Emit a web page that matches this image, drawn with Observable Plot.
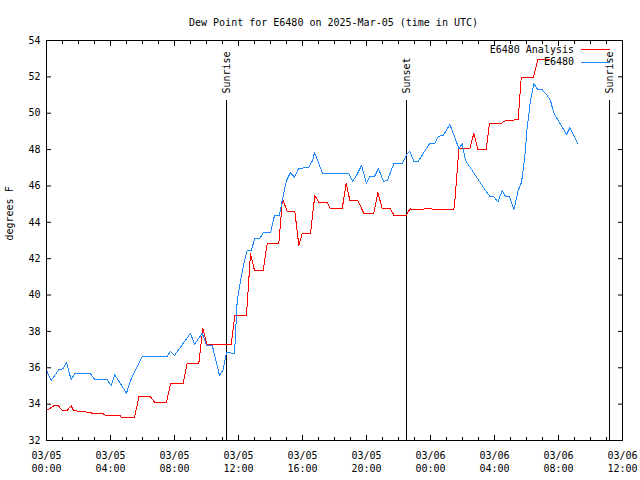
<!DOCTYPE html>
<html><head><meta charset="utf-8">
<script src="https://cdn.jsdelivr.net/npm/d3@7"></script>
<script src="https://cdn.jsdelivr.net/npm/@observablehq/plot@0.6"></script>
<style>body{margin:0;background:#fff} svg{display:block}</style>
</head><body><div id="chart"></div>
<script>
// ---- data (time in hours since 2025-03-05 00:00 UTC) ----
const title = "Dew Point for E6480 on 2025-Mar-05 (time in UTC)";
const yLabel = "degrees F";
const majorTickHours = [0, 4, 8, 12, 16, 20, 24, 28, 32, 36];
const tickDates = ["03/05","03/05","03/05","03/05","03/05","03/05","03/06","03/06","03/06","03/06"];
const tickTimes = ["00:00","04:00","08:00","12:00","16:00","20:00","00:00","04:00","08:00","12:00"];
const minorTickHours = [1,2,3,5,6,7,9,10,11,13,14,15,17,18,19,21,22,23,25,26,27,29,30,31,33,34,35];
const yTicks = [32, 34, 36, 38, 40, 42, 44, 46, 48, 50, 52, 54];
const sunHours = [11.25, 22.5, 35.19];
const sunLabels = ["Sunrise", "Sunset", "Sunrise"];
const seriesNames = ["E6480 Analysis", "E6480"];

const analysisHours = [0,0.46,0.75,0.98,1.29,1.54,1.69,2.1,2.54,2.75,2.85,3.56,3.69,4.63,4.69,5.5,5.77,6.5,6.77,7.5,
  7.75,8.54,8.79,9.52,9.77,10.04,11.54,11.77,12.5,12.75,13.0,13.54,13.79,14.52,14.75,15.04,15.52,15.77,15.98,16.5,
  16.77,17.02,17.54,17.75,18.48,18.73,18.96,19.46,19.83,20.46,20.71,20.98,21.5,21.71,22.5,22.71,22.96,23.48,23.69,23.89,
  24.58,25.46,25.52,25.67,25.77,26.46,26.71,26.96,27.48,27.69,28.44,28.69,29.48,29.67,30.42,30.71,31.46];
const analysisValues = [33.65,33.91,33.91,33.65,33.65,33.91,33.65,33.6,33.56,33.56,33.47,33.47,33.36,33.36,33.25,33.25,34.4,34.4,34.09,34.09,
  35.12,35.12,36.25,36.25,38.14,37.26,37.26,38.88,38.88,42.27,41.35,41.35,42.82,42.82,45.3,44.61,44.61,42.73,43.37,43.37,
  45.48,45.11,45.11,44.74,44.74,46.15,45.2,45.2,44.5,44.5,45.66,44.74,44.74,44.39,44.39,44.74,44.69,44.69,44.78,44.74,
  44.71,44.71,45.16,46.85,48.05,48.05,48.9,47.99,47.99,49.45,49.45,49.6,49.64,51.95,51.95,52.96,52.96];

const obsHours = [0,0.29,0.77,1.04,1.25,1.54,1.75,2.75,3.02,3.79,4.04,4.27,5.0,5.25,5.56,5.98,7.54,7.75,8.0,9.0,
  9.25,9.73,10.0,10.36,10.81,11.04,11.25,11.5,11.75,11.92,12.13,12.33,12.54,12.79,13.02,13.33,13.54,14.0,14.25,14.56,
  14.73,15.0,15.25,15.5,15.75,16.38,16.63,16.75,17.0,17.25,18.88,19.13,19.38,19.69,20.0,20.19,20.5,20.75,21.06,21.31,
  21.5,21.71,22.23,22.5,22.71,22.96,23.23,23.96,24.27,24.48,24.79,25.21,25.52,25.77,25.98,26.19,26.39,27.44,27.71,27.96,
  28.21,28.48,28.69,28.94,29.21,29.48,29.69,29.89,30.04,30.25,30.46,30.71,30.98,31.29,31.5,31.67,31.88,32.5,32.71,33.21];
const obsValues = [35.85,35.3,35.89,35.94,36.31,35.34,35.67,35.67,35.34,35.34,35.03,35.61,34.6,35.3,35.89,36.62,36.62,36.91,36.68,37.9,
  37.28,37.9,37.23,37.23,35.58,35.89,36.86,36.82,36.77,39.7,40.8,41.72,42.45,42.45,43.1,43.1,43.42,43.42,44.38,44.38,
  45.2,46.3,46.74,46.47,46.96,47.02,47.4,47.84,47.29,46.69,46.69,46.25,46.58,47.13,46.14,46.52,46.52,46.96,46.25,46.3,
  46.76,47.22,47.22,47.71,47.91,47.35,47.35,48.35,48.35,48.72,48.78,49.37,48.68,48.05,48.32,47.4,47.13,45.75,45.42,45.42,
  45.11,45.75,45.42,45.42,44.69,45.75,46.21,47.58,49.2,50.7,51.62,51.29,51.29,50.98,50.7,50.11,49.75,48.83,49.2,48.32];

// ---- build tables ----
const analysis = analysisHours.map((t, i) => ({t, v: analysisValues[i]}));
const observed = obsHours.map((t, i) => ({t, v: obsValues[i]}));
const sun = sunHours.map((t, i) => ({t, label: sunLabels[i]}));
const colors = ["#ff0000", "#1e88ff"];
const font = "DejaVu Sans Mono";

const legendMark = (index, scales, values, dims) => {
  const xr = dims.width - dims.marginRight;
  const g = d3.create("svg:g").attr("font-family", font).attr("font-size", 10);
  seriesNames.forEach((name, i) => {
    const y = dims.marginTop + 9.5 + i * 12.5;
    g.append("text").attr("x", xr - 48).attr("y", y).attr("dy", "0.32em")
      .attr("text-anchor", "end").attr("fill", "black").text(name);
    g.append("line").attr("x1", xr - 41.5).attr("x2", xr - 12.5)
      .attr("y1", y).attr("y2", y).attr("stroke", colors[i]).attr("stroke-width", 1)
      .attr("shape-rendering", "crispEdges");
  });
  return g.node();
};

const chart = Plot.plot({
  width: 640, height: 480,
  marginLeft: 46, marginRight: 18, marginTop: 40, marginBottom: 40,
  style: {fontFamily: font, fontSize: "10px", color: "black", background: "white"},
  x: {domain: [0, 36], label: null},
  y: {domain: [32, 54], label: null},
  marks: [
    Plot.axisY({ticks: yTicks, tickSize: 0, tickPadding: 6, label: null}),
    Plot.axisY({ticks: yTicks, tickSize: -5, text: null, label: null}),
    Plot.axisY({anchor: "right", ticks: yTicks, tickSize: -5, text: null, label: null}),
    Plot.axisX({ticks: majorTickHours, tickSize: 0, tickPadding: 10, lineHeight: 1.25, label: null,
      tickFormat: d => { const i = majorTickHours.indexOf(d); return tickDates[i] + "\n" + tickTimes[i]; }}),
    Plot.axisX({ticks: majorTickHours, tickSize: -5, text: null, label: null}),
    Plot.axisX({ticks: minorTickHours, tickSize: -3, text: null, label: null}),
    Plot.axisX({anchor: "top", ticks: majorTickHours, tickSize: -5, text: null, label: null}),
    Plot.axisX({anchor: "top", ticks: minorTickHours, tickSize: -3, text: null, label: null}),
    Plot.ruleX(sun, {x: "t", insetTop: 60, stroke: "black", strokeWidth: 1}),
    Plot.text(sun, {x: "t", text: "label", frameAnchor: "top", dy: 53, rotate: -90,
      textAnchor: "start", lineAnchor: "middle", fill: "black"}),
    Plot.line(analysis, {x: "t", y: "v", stroke: colors[0], strokeWidth: 1, shapeRendering: "crispEdges"}),
    Plot.line(observed, {x: "t", y: "v", stroke: colors[1], strokeWidth: 1, shapeRendering: "crispEdges"}),
    Plot.frame({stroke: "black"}),
    Plot.text([title], {frameAnchor: "top", dy: -22, dx: -1, fill: "black"}),
    Plot.text([yLabel], {frameAnchor: "left", dx: -37, rotate: -90, fill: "black"}),
    legendMark
  ]
});
document.getElementById("chart").appendChild(chart);
</script>
</body></html>
